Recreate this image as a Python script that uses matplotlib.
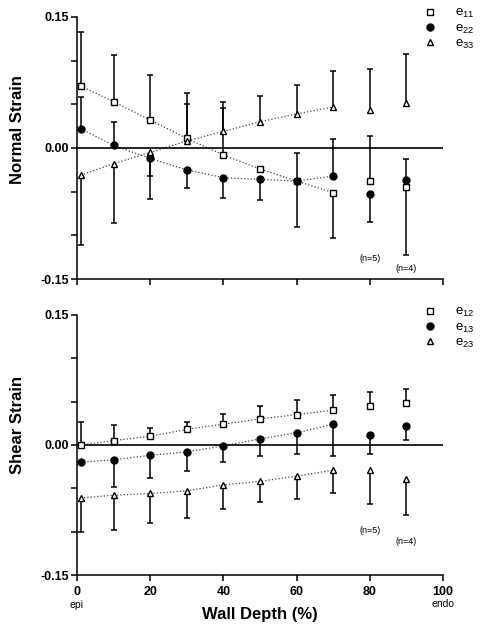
import matplotlib
matplotlib.use('Agg')
import matplotlib.pyplot as plt
import numpy as np
from matplotlib.lines import Line2D

plt.rcParams['font.family'] = ['Liberation Sans', 'DejaVu Sans']
plt.rcParams['mathtext.default'] = 'regular'
plt.rcParams['axes.unicode_minus'] = False

# wall depth (%) of each measurement
depth = [1, 10, 20, 30, 40, 50, 60, 70, 80, 90]
n_connected = 8  # points 1..70 are joined by dotted lines

# normal strains (mean, upper error, lower error)
e11 = [0.071, 0.053, 0.032, 0.011, -0.008, -0.024, -0.038, -0.051, -0.038, -0.045]
e11_up = [0.062, 0.053, 0.052, 0.052, 0.061, 0, 0, 0, 0.052, 0]
e11_dn = [0, 0, 0, 0, 0, 0, 0.053, 0.052, 0, 0.078]
e22 = [0.022, 0.003, -0.012, -0.025, -0.034, -0.036, -0.038, -0.032, -0.053, -0.037]
e22_up = [0.036, 0.027, 0, 0, 0, 0, 0.032, 0.042, 0, 0.024]
e22_dn = [0, 0, 0.046, 0.021, 0.023, 0.024, 0, 0, 0.032, 0]
e33 = [-0.031, -0.018, -0.005, 0.008, 0.019, 0.030, 0.039, 0.047, 0.043, 0.052]
e33_up = [0, 0, 0, 0.042, 0.027, 0.030, 0.033, 0.041, 0.047, 0.056]
e33_dn = [0.080, 0.068, 0.027, 0, 0, 0, 0, 0, 0, 0]

# shear strains
e12 = [0.000, 0.005, 0.010, 0.018, 0.024, 0.030, 0.035, 0.040, 0.045, 0.048]
e12_up = [0.027, 0.018, 0.010, 0.008, 0.012, 0.015, 0.017, 0.018, 0.016, 0.016]
e12_dn = [0, 0, 0, 0, 0, 0, 0, 0, 0, 0]
e13 = [-0.020, -0.017, -0.012, -0.008, -0.001, 0.007, 0.014, 0.024, 0.012, 0.022]
e13_up = [0, 0, 0, 0, 0, 0, 0, 0, 0, 0]
e13_dn = [0, 0.031, 0.026, 0.022, 0.019, 0.020, 0.025, 0.037, 0.022, 0.016]
e23 = [-0.061, -0.058, -0.056, -0.053, -0.046, -0.042, -0.036, -0.029, -0.029, -0.039]
e23_up = [0, 0, 0, 0, 0, 0, 0, 0, 0, 0]
e23_dn = [0.039, 0.040, 0.034, 0.031, 0.028, 0.024, 0.026, 0.027, 0.039, 0.042]

n_labels = ['(n=5)', '(n=4)']
n_depth = [80, 90]
n_y_top = [-0.127, -0.138]
n_y_bot = [-0.099, -0.111]

styles = [dict(marker='s', mfc='white', ms=4.8),
          dict(marker='o', mfc='black', ms=5.0),
          dict(marker='^', mfc='white', ms=5.0)]


def draw_series(ax, y, up, dn, st):
    x = np.array(depth)
    y = np.array(y)
    up = np.array(up)
    dn = np.array(dn)
    ax.plot(x[:n_connected], y[:n_connected], ls=':', color='#444444', lw=0.9, zorder=1)
    ax.vlines(x, y - dn, y + up, color='black', lw=1.1, zorder=2)
    hi = up > 0
    lo = dn > 0
    ax.plot(x[hi], (y + up)[hi], ls='none', marker='_', ms=5, mew=1.1, color='black', zorder=2)
    ax.plot(x[lo], (y - dn)[lo], ls='none', marker='_', ms=5, mew=1.1, color='black', zorder=2)
    ax.plot(x, y, ls='none', marker=st['marker'], mfc=st['mfc'], mec='black',
            ms=st['ms'], mew=1.0, zorder=3)


def style_axes(ax, ylabel, label_y):
    ax.set_xlim(0, 100)
    ax.set_ylim(-0.15, 0.15)
    ax.spines['top'].set_visible(False)
    ax.spines['right'].set_visible(False)
    ax.spines['left'].set_linewidth(1.1)
    ax.spines['bottom'].set_linewidth(1.1)
    ax.axhline(0, color='black', lw=1.2, zorder=1)
    ax.set_xticks(range(0, 101, 20))
    ax.set_yticks([-0.15, 0.0, 0.15])
    ax.set_yticklabels(['-0.15', '0.00', '0.15'], fontweight='bold', fontsize=9)
    ax.set_yticks([-0.10, -0.05, 0.05, 0.10], minor=True)
    ax.tick_params(which='both', direction='out', length=4, width=1.1, pad=2)
    ax.set_ylabel(ylabel, fontweight='bold', fontsize=12)
    ax.yaxis.set_label_coords(-0.142, label_y)


fig = plt.figure(figsize=(4.92, 6.33), dpi=100)
ax1 = fig.add_axes([0.1565, 0.5592, 0.744, 0.414])
ax2 = fig.add_axes([0.1565, 0.0916, 0.744, 0.411])

for ax, series, names, ylabel, ly, ny, leg_y in [
        (ax1, [(e11, e11_up, e11_dn), (e22, e22_up, e22_dn), (e33, e33_up, e33_dn)],
         ['e$_{11}$', 'e$_{22}$', 'e$_{33}$'], 'Normal Strain', 0.569, n_y_top, 1 - 7 / 633),
        (ax2, [(e12, e12_up, e12_dn), (e13, e13_up, e13_dn), (e23, e23_up, e23_dn)],
         ['e$_{12}$', 'e$_{13}$', 'e$_{23}$'], 'Shear Strain', 0.577, n_y_bot, 1 - 306 / 633)]:
    for (y, up, dn), st in zip(series, styles):
        draw_series(ax, y, up, dn, st)
    style_axes(ax, ylabel, ly)
    for lab, xd, yd in zip(n_labels, n_depth, ny):
        ax.text(xd, yd, lab, ha='center', va='center', fontsize=6.5)
    handles = [Line2D([], [], ls='none', marker=st['marker'], mfc=st['mfc'], mec='black',
                      ms=st['ms'], mew=1.0) for st in styles]
    ax.legend(handles, names, loc='upper left', bbox_to_anchor=(425 / 492, leg_y),
              bbox_transform=fig.transFigure, frameon=False, fontsize=9.5,
              handlelength=0.7, handletextpad=1.6, labelspacing=0.15,
              borderpad=0, borderaxespad=0)

ax1.set_xticklabels([])
ax2.set_xticklabels([str(v) for v in range(0, 101, 20)], fontweight='bold', fontsize=9)
ax2.tick_params(axis='x', pad=4)

ax2.text(0, -0.115, 'epi', transform=ax2.get_xaxis_transform(), ha='center', va='center', fontsize=7.5)
ax2.text(100, -0.112, 'endo', transform=ax2.get_xaxis_transform(), ha='center', va='center', fontsize=7.5)
ax2.set_xlabel('Wall Depth (%)', fontweight='bold', fontsize=12)
ax2.xaxis.set_label_coords(0.5, -0.15)
ax2.xaxis.label.set_va('center')

fig.savefig('out.png', dpi=100)
